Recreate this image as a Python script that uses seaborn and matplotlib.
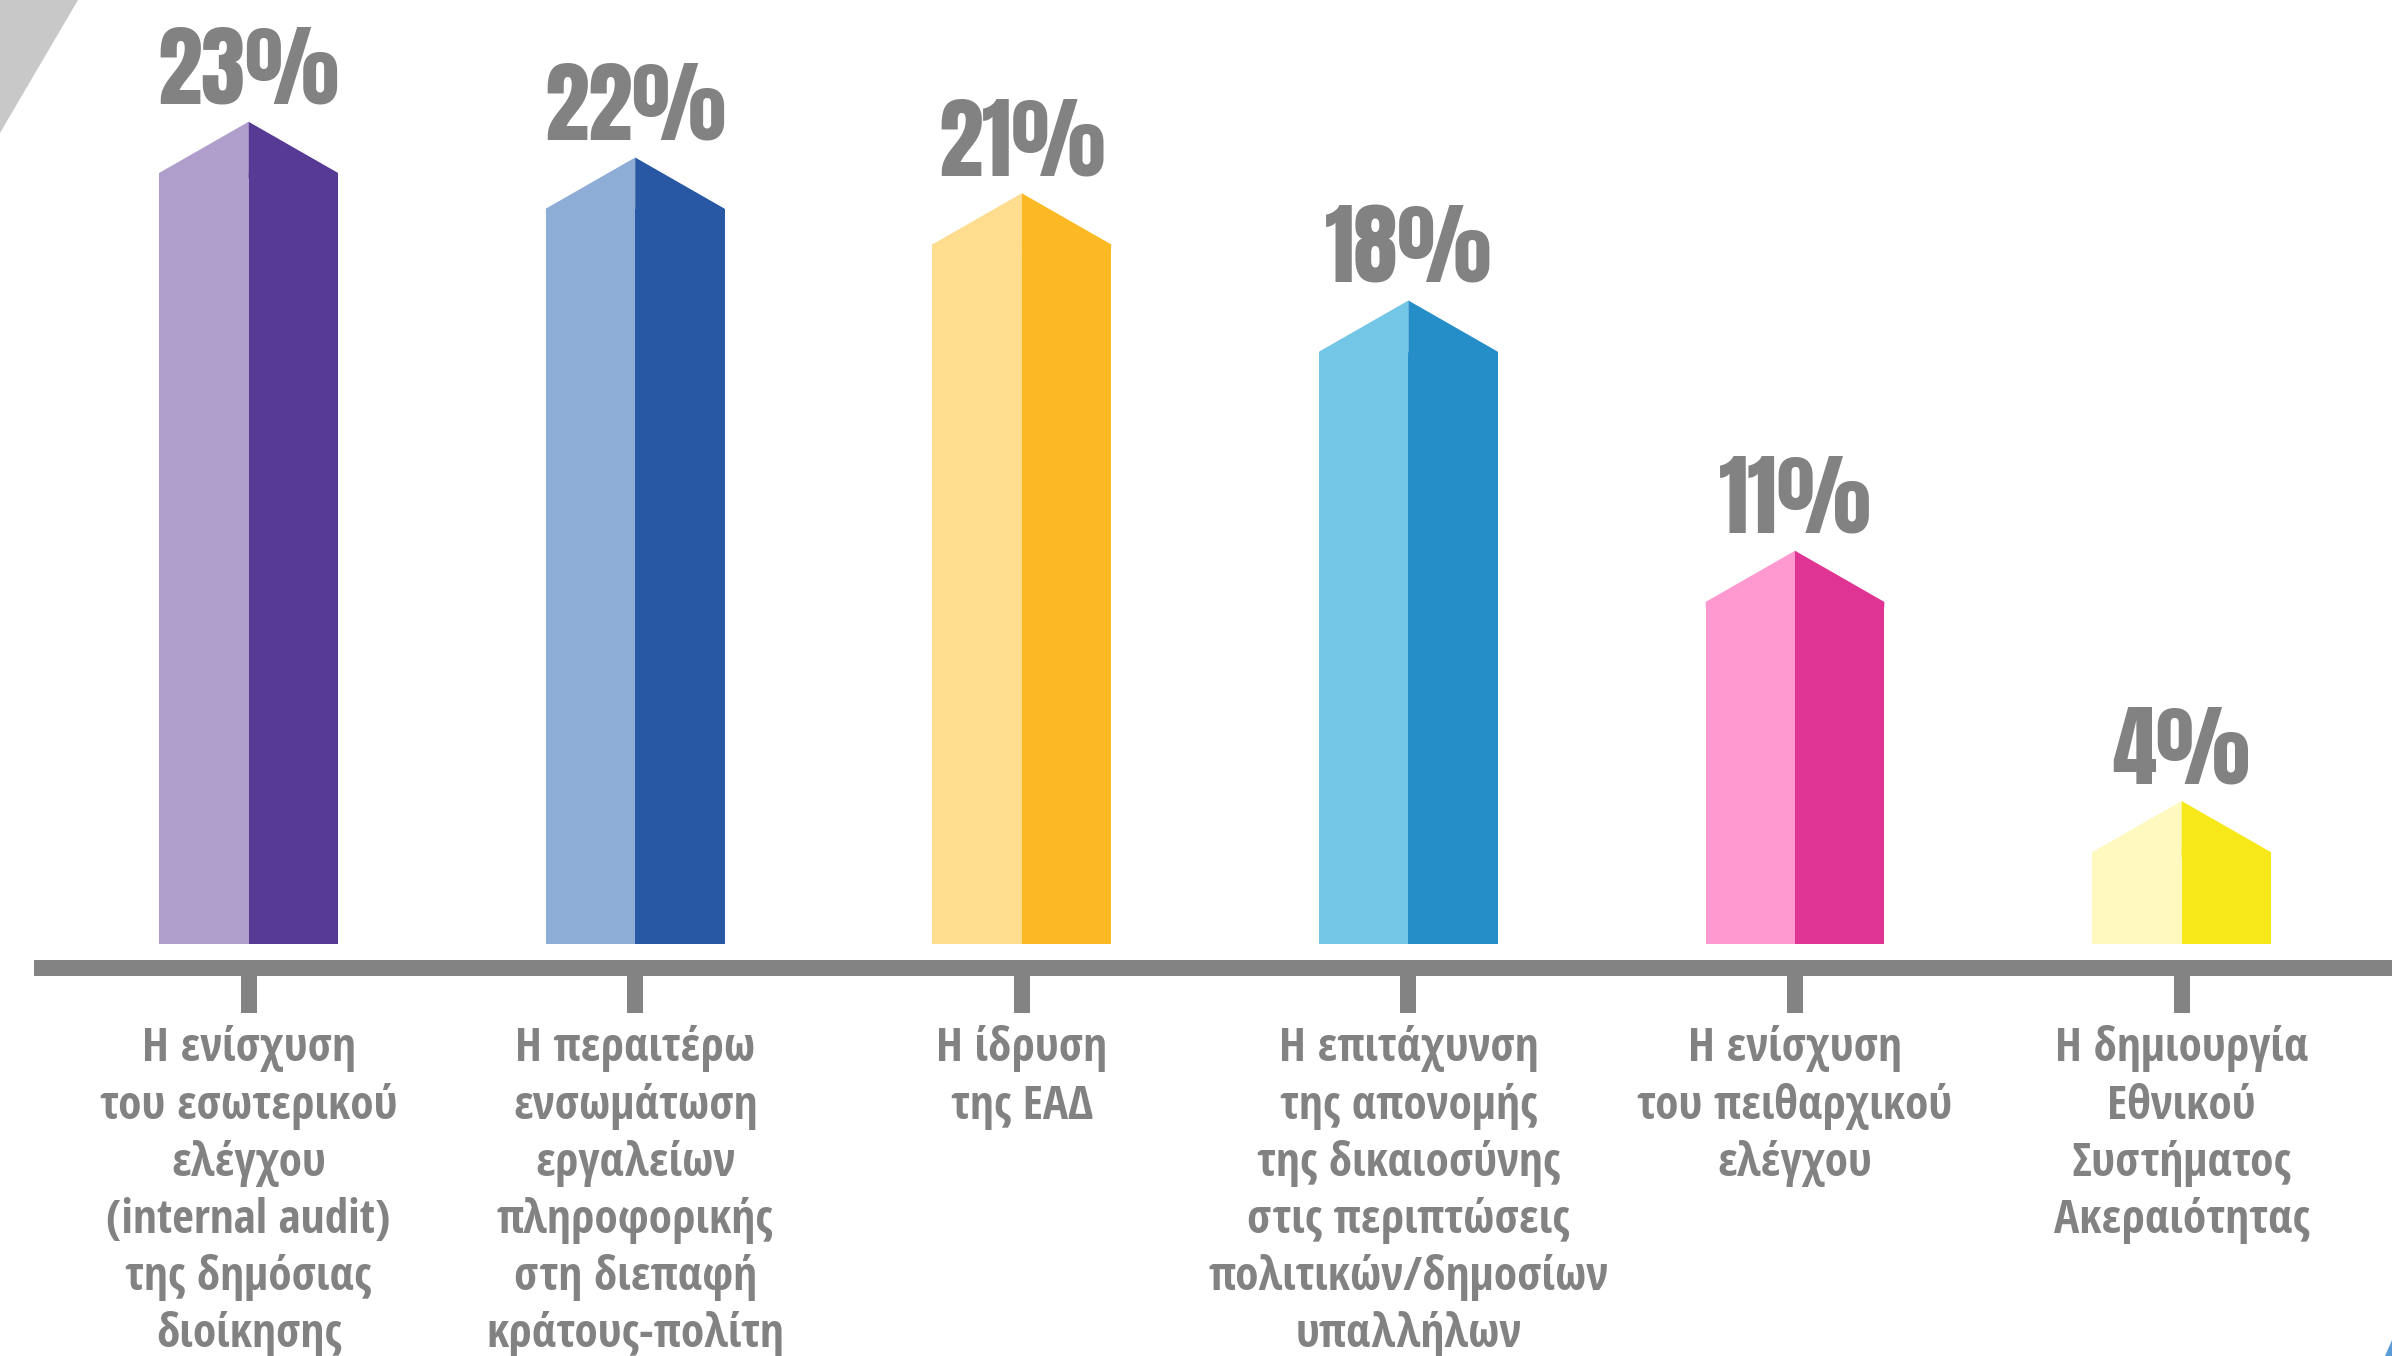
import matplotlib
matplotlib.use("Agg")
import matplotlib.pyplot as plt
from matplotlib.patches import Polygon
from matplotlib import font_manager
import seaborn as sns
import pandas as pd

# ---------------- data ----------------
categories = [
    "Η ενίσχυση\nτου εσωτερικού\nελέγχου\n(internal audit)\nτης δημόσιας\nδιοίκησης",
    "Η περαιτέρω\nενσωμάτωση\nεργαλείων\nπληροφορικής\nστη διεπαφή\nκράτους-πολίτη",
    "Η ίδρυση\nτης ΕΑΔ",
    "Η επιτάχυνση\nτης απονομής\nτης δικαιοσύνης\nστις περιπτώσεις\nπολιτικών/δημοσίων\nυπαλλήλων",
    "Η ενίσχυση\nτου πειθαρχικού\nελέγχου",
    "Η δημιουργία\nΕθνικού\nΣυστήματος\nΑκεραιότητας",
]
values = [23, 22, 21, 18, 11, 4]
value_labels = ["23%", "22%", "21%", "18%", "11%", "4%"]
light_colors = ["#AF9ECB", "#8DADD7", "#FFDD8E", "#74C6E7", "#FF99CF", "#FFF9BF"]
dark_colors = ["#573A94", "#2857A4", "#FDB924", "#258DC8", "#E03494", "#F7E819"]

# ---------------- style ----------------
GRAY = "#838383"
TEXT_GRAY = "#828282"
ROOF = 1.43          # height of the pointed roof (value units)
BAR_W = 0.462

sns.set_theme(style="white")


def pick_font(cands, weight="bold"):
    for c in cands:
        try:
            font_manager.findfont(font_manager.FontProperties(family=c, weight=weight),
                                  fallback_to_default=False)
            return c
        except Exception:
            continue
    return "DejaVu Sans"


LABEL_FONT = pick_font(["Open Sans Condensed", "PT Sans Narrow", "Liberation Sans"])
NUM_FONT = pick_font(["Anton", "League Gothic", "Oswald", "Open Sans Condensed"], weight="normal")
plt.rcParams["font.family"] = [LABEL_FONT, "DejaVu Sans"]

W, H = 2392, 1356
fig = plt.figure(figsize=(W / 100, H / 100), dpi=100)
ax = fig.add_axes([0, 0, 1, 1])

df = pd.DataFrame({
    "category": categories * 2,
    "half": ["light"] * len(categories) + ["dark"] * len(categories),
    "shoulder": [v - ROOF for v in values] * 2,
})

sns.barplot(data=df, x="category", y="shoulder", hue="half", order=categories,
            hue_order=["light", "dark"], dodge=True, width=BAR_W, gap=0,
            palette={"light": "#cccccc", "dark": "#666666"}, legend=False,
            ax=ax, linewidth=0, saturation=1)

# colour each half and add the pointed roof (overlapping the bar slightly)
OVER = 0.15
for half_idx, (container, cols) in enumerate(zip(ax.containers, [light_colors, dark_colors])):
    for bar, col in zip(container, cols):
        bar.set_facecolor(col)
        bar.set_edgecolor("none")
        x0, w, top = bar.get_x(), bar.get_width(), bar.get_height()
        if half_idx == 0:
            pts = [(x0, top - OVER), (x0, top), (x0 + w, top + ROOF),
                   (x0 + w, top - OVER)]
        else:
            pts = [(x0, top - OVER), (x0, top + ROOF), (x0 + w, top),
                   (x0 + w, top - OVER)]
        ax.add_patch(Polygon(pts, closed=True, facecolor=col, edgecolor="none",
                             linewidth=0))

# value labels
for i, (v, lab) in enumerate(zip(values, value_labels)):
    ax.text(i, v + 0.5, lab, ha="center", va="baseline", fontsize=64,
            family=[NUM_FONT, "DejaVu Sans"], color=TEXT_GRAY)

# axis geometry (figure-filling axes)
PX_PER_UNIT = 35.75
BASE_FROM_BOTTOM = H - 944
SLOT = 386.6
FIRST = 248.6
ax.set_xlim(-FIRST / SLOT, (W - FIRST) / SLOT)
ax.set_ylim(-BASE_FROM_BOTTOM / PX_PER_UNIT, (H - BASE_FROM_BOTTOM) / PX_PER_UNIT)

for s in ["top", "left", "right"]:
    ax.spines[s].set_visible(False)
sp = ax.spines["bottom"]
sp.set_visible(True)
sp.set_position(("data", -(968 - 944) / PX_PER_UNIT))
sp.set_linewidth(16 * 0.72)
sp.set_color(GRAY)
sp.set_capstyle("butt")
sp.set_bounds((33.5 - FIRST) / SLOT, (W - FIRST) / SLOT)

ax.set_yticks([])
ax.set_xlabel("")
ax.set_ylabel("")
ax.tick_params(axis="x", direction="out", length=(1013 - 968) * 0.72,
               width=16 * 0.72, color=GRAY, pad=9, bottom=True,
               labelsize=34, labelcolor=TEXT_GRAY)
for t in ax.get_xticklabels():
    t.set_fontweight("bold")
    t.set_linespacing(1.28)
    t.set_multialignment("center")
ax.set_facecolor("white")
fig.patch.set_facecolor("white")

# corner decorations
fig.add_artist(Polygon([(0, 1), (78 / W, 1), (0, 1 - 133 / H)], closed=True,
                       transform=fig.transFigure, facecolor="#C8C8C8", edgecolor="none"))
fig.add_artist(Polygon([(2385 / W, 0), (1, 16 / H), (1, 0)], closed=True,
                       transform=fig.transFigure, facecolor="#5B9BD5", edgecolor="none"))

fig.savefig("out.png", dpi=100, facecolor="white")
